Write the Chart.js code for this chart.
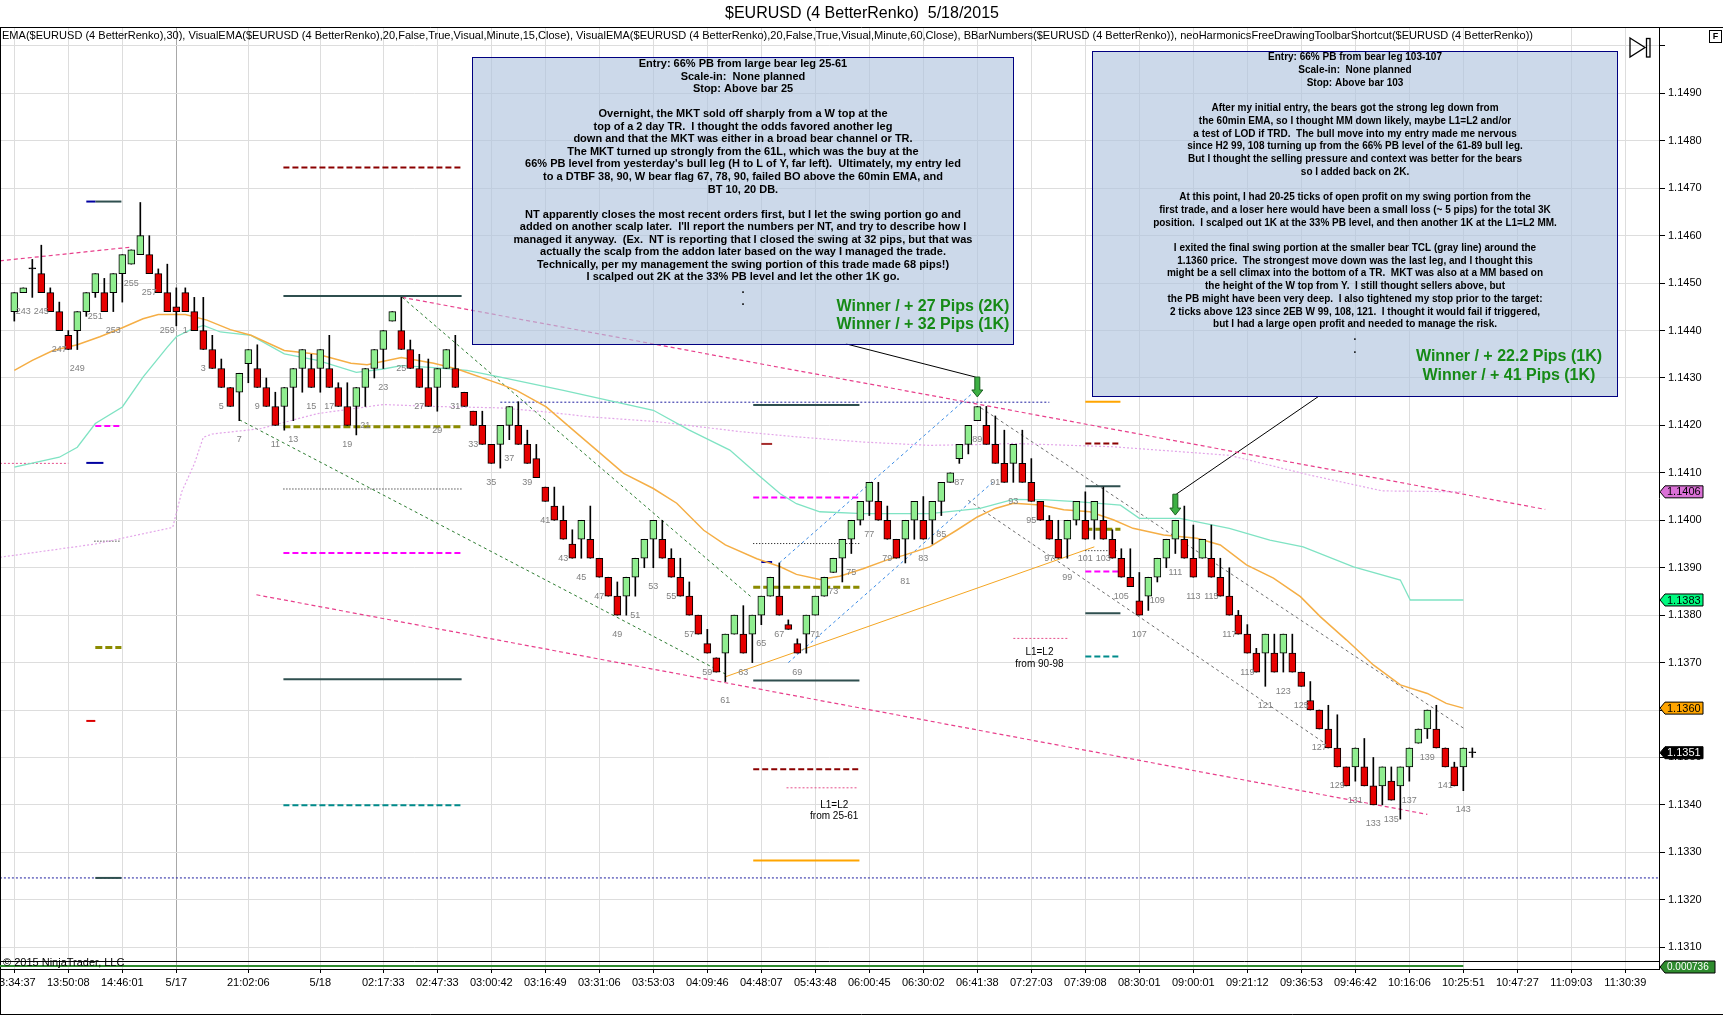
<!DOCTYPE html>
<html>
<head>
<meta charset="utf-8">
<title>$EURUSD (4 BetterRenko) 5/18/2015</title>
<script src="https://cdn.jsdelivr.net/npm/chart.js@4.4.1/dist/chart.umd.min.js"></script>
<style>
html, body { margin: 0; padding: 0; background: #fff; }
canvas { display: block; }
</style>
</head>
<body>
<canvas id="myChart" width="1723" height="1015"></canvas>
<script>
// renko bars (bar 1 = #242 of the previous session)
const barOpen = [
1.1444,1.1448,1.1453,1.1452,1.1448,1.1444,1.1439,1.1440,1.1444,1.1448,
1.1448,1.1448,1.1452,1.1454,1.1456,1.1456,1.1452,1.1448,1.1445,1.1448,
1.1444,1.1440,1.1436,1.1432,1.1428,1.1427,1.1433,1.1432,1.1428,1.1424,
1.1424,1.1428,1.1432,1.1432,1.1432,1.1432,1.1428,1.1424,1.1424,1.1428,
1.1432,1.1436,1.1442,1.1440,1.1436,1.1432,1.1428,1.1428,1.1432,1.1432,
1.1427,1.1423,1.1420,1.1416,1.1416,1.1420,1.1420,1.1416,1.1413,1.1407,
1.1403,1.1400,1.1395,1.1396,1.1396,1.1392,1.1388,1.1384,1.1384,1.1388,
1.1392,1.1396,1.1396,1.1392,1.1388,1.1384,1.1380,1.1374,1.1371,1.1372,
1.1376,1.1376,1.1376,1.1380,1.1384,1.1384,1.1378,1.1374,1.1376,1.1380,
1.1384,1.1389,1.1392,1.1396,1.1400,1.1404,1.1404,1.1400,1.1396,1.1396,
1.1400,1.1400,1.1400,1.1404,1.1408,1.1413,1.1416,1.1421,1.1420,1.1416,
1.1412,1.1412,1.1412,1.1408,1.1404,1.1400,1.1396,1.1396,1.1400,1.1400,
1.1400,1.1400,1.1396,1.1392,1.1388,1.1383,1.1384,1.1388,1.1392,1.1396,
1.1396,1.1392,1.1392,1.1392,1.1388,1.1384,1.1380,1.1376,1.1372,1.1372,
1.1372,1.1372,1.1372,1.1368,1.1362,1.1360,1.1356,1.1352,1.1348,1.1348,
1.1348,1.1344,1.1344,1.1345,1.1344,1.1348,1.1353,1.1356,1.1356,1.1352,
1.1348,1.1348,1.1351];
const barClose = [
1.1448,1.1449,1.1453,1.1448,1.1444,1.1440,1.1436,1.1444,1.1448,1.1452,
1.1444,1.1452,1.1456,1.1457,1.1460,1.1452,1.1448,1.1444,1.1444,1.1444,
1.1440,1.1436,1.1432,1.1428,1.1424,1.1431,1.1436,1.1428,1.1424,1.1420,
1.1428,1.1432,1.1436,1.1428,1.1436,1.1428,1.1424,1.1420,1.1428,1.1432,
1.1436,1.1440,1.1444,1.1436,1.1432,1.1428,1.1424,1.1432,1.1436,1.1428,
1.1424,1.1420,1.1416,1.1412,1.1420,1.1424,1.1416,1.1412,1.1409,1.1404,
1.1400,1.1396,1.1392,1.1400,1.1392,1.1388,1.1384,1.1380,1.1388,1.1392,
1.1396,1.1400,1.1392,1.1388,1.1384,1.1380,1.1376,1.1372,1.1368,1.1376,
1.1380,1.1372,1.1380,1.1384,1.1388,1.1380,1.1377,1.1372,1.1380,1.1384,
1.1388,1.1392,1.1396,1.1400,1.1404,1.1408,1.1400,1.1396,1.1392,1.1400,
1.1404,1.1396,1.1404,1.1408,1.1410,1.1416,1.1420,1.1424,1.1416,1.1412,
1.1408,1.1416,1.1408,1.1404,1.1400,1.1396,1.1392,1.1400,1.1404,1.1396,
1.1404,1.1396,1.1392,1.1388,1.1386,1.1380,1.1388,1.1392,1.1396,1.1400,
1.1392,1.1388,1.1396,1.1388,1.1384,1.1380,1.1376,1.1372,1.1368,1.1376,
1.1368,1.1376,1.1368,1.1365,1.1360,1.1356,1.1352,1.1348,1.1344,1.1352,
1.1344,1.1340,1.1348,1.1341,1.1348,1.1352,1.1356,1.1360,1.1352,1.1348,
1.1344,1.1352,1.1351];
const barHigh = [
1.1448,1.1449,1.1455,1.1458,1.1449,1.1446,1.1440,1.1444,1.1448,1.1452,
1.1451,1.1452,1.1456,1.1457,1.1467,1.1460,1.1453,1.1454,1.1449,1.1449,
1.1447,1.1447,1.1439,1.1434,1.1428,1.1431,1.1436,1.1437,1.1430,1.1427,
1.1428,1.1432,1.1436,1.1435,1.1436,1.1439,1.1429,1.1429,1.1428,1.1432,
1.1436,1.1440,1.1444,1.1447,1.1438,1.1435,1.1434,1.1432,1.1436,1.1439,
1.1427,1.1423,1.1423,1.1416,1.1420,1.1424,1.1425,1.1419,1.1416,1.1407,
1.1407,1.1403,1.1398,1.1400,1.1403,1.1392,1.1388,1.1387,1.1388,1.1392,
1.1396,1.1400,1.1400,1.1394,1.1392,1.1387,1.1380,1.1377,1.1371,1.1376,
1.1380,1.1382,1.1380,1.1384,1.1388,1.1391,1.1379,1.1375,1.1380,1.1384,
1.1388,1.1392,1.1396,1.1400,1.1404,1.1408,1.1408,1.1403,1.1396,1.1400,
1.1404,1.1405,1.1404,1.1408,1.1410,1.1416,1.1420,1.1424,1.1424,1.1422,
1.1419,1.1416,1.1419,1.1413,1.1404,1.1401,1.1400,1.1400,1.1404,1.1406,
1.1404,1.1407,1.1398,1.1394,1.1394,1.1389,1.1388,1.1392,1.1396,1.1400,
1.1403,1.1399,1.1396,1.1399,1.1392,1.1390,1.1381,1.1378,1.1373,1.1376,
1.1376,1.1376,1.1376,1.1368,1.1366,1.1360,1.1361,1.1359,1.1348,1.1352,
1.1354,1.1350,1.1348,1.1348,1.1348,1.1352,1.1356,1.1360,1.1361,1.1352,
1.1349,1.1352,1.1352];
const barLow = [
1.1442,1.1448,1.1447,1.1448,1.1444,1.1440,1.1436,1.1436,1.1443,1.1447,
1.1444,1.1444,1.1446,1.1454,1.1456,1.1452,1.1448,1.1444,1.1441,1.1444,
1.1440,1.1436,1.1432,1.1428,1.1424,1.1421,1.1429,1.1428,1.1424,1.1420,
1.1419,1.1421,1.1427,1.1428,1.1427,1.1428,1.1424,1.1420,1.1418,1.1424,
1.1430,1.1432,1.1442,1.1436,1.1432,1.1428,1.1424,1.1423,1.1432,1.1428,
1.1424,1.1420,1.1416,1.1412,1.1411,1.1417,1.1416,1.1412,1.1409,1.1404,
1.1400,1.1396,1.1392,1.1392,1.1392,1.1388,1.1384,1.1380,1.1380,1.1384,
1.1390,1.1390,1.1392,1.1388,1.1384,1.1380,1.1376,1.1372,1.1368,1.1366,
1.1376,1.1372,1.1370,1.1378,1.1384,1.1380,1.1377,1.1372,1.1372,1.1380,
1.1384,1.1389,1.1387,1.1393,1.1399,1.1401,1.1400,1.1396,1.1392,1.1391,
1.1396,1.1396,1.1395,1.1401,1.1408,1.1412,1.1414,1.1421,1.1416,1.1412,
1.1408,1.1408,1.1408,1.1404,1.1400,1.1396,1.1392,1.1392,1.1399,1.1396,
1.1396,1.1396,1.1392,1.1388,1.1386,1.1380,1.1381,1.1387,1.1390,1.1393,
1.1392,1.1388,1.1392,1.1388,1.1384,1.1380,1.1376,1.1372,1.1368,1.1365,
1.1368,1.1368,1.1368,1.1365,1.1360,1.1356,1.1352,1.1348,1.1344,1.1345,
1.1344,1.1340,1.1340,1.1341,1.1337,1.1345,1.1353,1.1354,1.1352,1.1348,
1.1344,1.1343,1.1350];

const firstBarNumber = 242;   // number printed under bar 1
const sessionStart = 19;      // 0-based index of bar "1" of 5/18 numbering

// time axis
const tickBars = [1,7,13,19,27,35,42,48,54,60,66,72,78,84,90,96,102,108,114,120,126,132,138,144,150,156,162,168,174,180];
const tickLabels = ['13:34:37','13:50:08','14:46:01','5/17','21:02:06','5/18','02:17:33','02:47:33','03:00:42','03:16:49',
  '03:31:06','03:53:03','04:09:46','04:48:07','05:43:48','06:00:45','06:30:02','06:41:38','07:27:03','07:39:08',
  '08:30:01','09:00:01','09:21:12','09:36:53','09:46:42','10:16:06','10:25:51','10:47:27','11:09:03','11:30:39'];
const sessionBar = 19;

// price axis
const yTicks = [1.1310,1.1320,1.1330,1.1340,1.1350,1.1360,1.1370,1.1380,1.1390,1.1400,
  1.1410,1.1420,1.1430,1.1440,1.1450,1.1460,1.1470,1.1480,1.1490,1.1500];
const xMin = -0.59, xMax = 183.74;
const yMin = 1.13054, yMax = 1.15040;

// EMA(30) - orange
const emaBars = [1,3,5.3,8,10.5,13,15.3,17,20,22.4,25,27.3,31,34.7,38.4,40.2,44,47.6,50.2,55,56.8,60.1,63.1,65.7,68.7,72,74.6,77.6,80,83.5,
  86.1,87.9,90.5,92.7,95.3,97.9,99.8,102.7,105.7,108,110,112,115,117.6,120.5,123.1,125.3,128.7,132.4,135,137.9,140.9,143.9,146.1,149,152,155,158,160.1,162];
const emaVals = [1.14316,1.14337,1.14358,1.14370,1.14387,1.14406,1.14425,1.14434,1.14434,1.14422,1.14402,1.14390,1.14358,1.14350,1.14331,1.14328,1.14343,1.14331,1.14319,1.14287,
  1.14274,1.14239,1.14190,1.14148,1.14099,1.14067,1.14036,1.13979,1.13948,1.13919,1.13902,1.13886,1.13875,1.13882,1.13898,1.13916,1.13926,1.13944,1.13979,1.14007,
  1.14025,1.14036,1.14032,1.14022,1.14018,1.14001,1.13983,1.13969,1.13962,1.13948,1.13906,1.13878,1.13839,1.13797,1.13748,1.13695,1.13653,1.13635,1.13614,1.13604];

// VisualEMA 15 min - aquamarine
const ema15Bars = [1,6,8,10,13,15.3,18,19,20.5,22,23.9,27.3,31,34.7,39,42,44,47.6,51.3,55,62,72,76,80.5,83.5,86.1,87.9,90.5,95.3,102.7,
  108.3,112,115.7,119.4,123.9,126,130.5,136,140.5,144.2,149.8,155,156.1,162];
const ema15Vals = [1.14112,1.14133,1.14154,1.14204,1.14239,1.14302,1.14365,1.14387,1.14401,1.14411,1.14397,1.14390,1.14351,1.14337,1.14312,1.14319,1.14326,1.14322,1.14316,1.14302,
  1.14274,1.14232,1.14190,1.14148,1.14098,1.14056,1.14035,1.14018,1.14014,1.14014,1.14025,1.14044,1.14043,1.14039,1.14032,1.14004,1.14004,1.13983,1.13958,1.13944,
  1.13902,1.13874,1.13832,1.13832];

// VisualEMA 60 min - plum dotted
const ema60Bars = [-0.6,10,18.6,19.6,21,22,23,28.3,34.7,42,47.6,55,59.8,65,72.4,81.6,87.9,95.3,102.7,109,112,123.1,136,145,153,162];
const ema60Vals = [1.13922,1.13950,1.13985,1.14060,1.14119,1.14175,1.14182,1.14193,1.14225,1.14244,1.14240,1.14237,1.14229,1.14218,1.14208,1.14187,1.14176,1.14165,1.14158,1.14160,
  1.14162,1.14155,1.14137,1.14095,1.14062,1.14060];

// hand drawn levels and trendlines: [bar1, price1, bar2, price2, style]
const drawLines = [
  [9.0,1.14672,10.0,1.14672,'navy'], [10.0,1.14672,12.9,1.14672,'slate'],
  [10.0,1.14199,12.9,1.14199,'magenta'], [9.0,1.14121,10.9,1.14121,'navy'],
  [-0.6,1.14120,7.0,1.14120,'pinkDot'], [9.9,1.13956,12.9,1.13956,'dotBlack'],
  [10.0,1.13732,12.9,1.13732,'olive'], [9.0,1.13577,10.0,1.13577,'red'],
  [10.0,1.13246,12.9,1.13246,'slate'],
  [30.9,1.14744,50.7,1.14744,'maroon'], [30.9,1.14473,50.7,1.14473,'slate'],
  [30.9,1.14197,50.7,1.14197,'olive'], [30.9,1.14066,50.7,1.14066,'dotBlack'],
  [30.9,1.13931,50.7,1.13931,'magenta'], [30.9,1.13665,50.7,1.13665,'slate'],
  [30.9,1.13399,50.7,1.13399,'teal'],
  [83.1,1.14243,94.9,1.14243,'slate'], [84.0,1.14161,85.2,1.14161,'maroonSolid'],
  [83.1,1.14048,94.9,1.14048,'magenta'], [83.1,1.13951,94.9,1.13951,'dotBlack'],
  [84.0,1.13912,85.2,1.13912,'navy'], [83.1,1.13859,94.9,1.13859,'olive'],
  [83.1,1.13662,94.9,1.13662,'slate'], [83.1,1.13475,94.9,1.13475,'maroon'],
  [86.8,1.13436,94.7,1.13436,'pinkDot'], [83.1,1.13283,94.9,1.13283,'orange'],
  [120.0,1.14250,123.9,1.14250,'orange'], [120.0,1.14162,123.9,1.14162,'maroon'],
  [120.0,1.14072,123.9,1.14072,'slate'], [120.0,1.13981,123.9,1.13981,'olive'],
  [120.0,1.13936,123.5,1.13936,'dotBlack'], [120.0,1.13892,123.9,1.13892,'magenta'],
  [120.0,1.13804,123.9,1.13804,'slate'], [120.0,1.13713,123.9,1.13713,'teal'],
  [112.0,1.13751,118.0,1.13751,'pinkDot'],
  [-0.6,1.13246,183.7,1.13246,'navyDot'], [55.0,1.14249,116.0,1.14249,'navyDot'],
  [44.1,1.14470,82.9,1.13838,'greenDash'], [26.0,1.14212,80.0,1.13676,'greenDash'],
  [44.1,1.14470,171.1,1.14023,'pinkDash'], [-0.6,1.14547,14.0,1.14576,'pinkDash'],
  [27.9,1.13843,158.0,1.13380,'pinkDash'],
  [86.0,1.13910,108.0,1.14277,'blueDash'], [87.0,1.13700,110.0,1.14085,'blueDash'],
  [108.4,1.14237,162.0,1.13562,'greyDash'], [107.0,1.14042,147.0,1.13525,'greyDash'],
  [80.0,1.13670,121.0,1.13944,'orangeThin'],
  [93.4,1.14372,107.8,1.14302,'black'], [145.9,1.14261,130.1,1.14055,'black']
];
const drawStyles = {
  slate: ['#2F4F4F', 2, []], navy: ['#0000A0', 2, []], maroon: ['#8B0000', 2, [6, 3]],
  maroonSolid: ['#A52A2A', 2, []], olive: ['#8B8B00', 3, [7, 3]], magenta: ['#FF00FF', 2, [6, 3]],
  dotBlack: ['#000000', 1, [1, 2]], teal: ['#008B8B', 2, [6, 3]], red: ['#DC0000', 2, []],
  orange: ['#FFA500', 2, []], pinkDot: ['#E6508C', 1, [2, 2]], navyDot: ['#1E1EA0', 1, [2, 2]],
  greenDash: ['#2E7D32', 1, [3, 3]], pinkDash: ['#E8408C', 1.2, [4, 3]], blueDash: ['#3C8CE6', 1, [3, 3]],
  greyDash: ['#6E6E6E', 1, [3, 3]], orangeThin: ['#F5A623', 1, []], black: ['#000000', 1, []]
};

// entry arrows: bar, top price, tip price
const arrowBars = [108, 130];
const arrowTops = [1.14302, 1.14055];
const arrowTips = [1.14260, 1.14011];

const noteLeft = [
  'Entry: 66% PB from large bear leg 25-61',
  'Scale-in:  None planned',
  'Stop: Above bar 25',
  '',
  'Overnight, the MKT sold off sharply from a W top at the',
  'top of a 2 day TR.  I thought the odds favored another leg',
  'down and that the MKT was either in a broad bear channel or TR.',
  'The MKT turned up strongly from the 61L, which was the buy at the',
  "66% PB level from yesterday's bull leg (H to L of Y, far left).  Ultimately, my entry led",
  'to a DTBF 38, 90, W bear flag 67, 78, 90, failed BO above the 60min EMA, and',
  'BT 10, 20 DB.',
  '',
  'NT apparently closes the most recent orders first, but I let the swing portion go and',
  "added on another scalp later.  I'll report the numbers per NT, and try to describe how I",
  'managed it anyway.  (Ex.  NT is reporting that I closed the swing at 32 pips, but that was',
  'actually the scalp from the addon later based on the way I managed the trade.',
  'Technically, per my management the swing portion of this trade made 68 pips!)',
  'I scalped out 2K at the 33% PB level and let the other 1K go.',
  '.',
  '.'
];
const noteRight = [
  'Entry: 66% PB from bear leg 103-107',
  'Scale-in:  None planned',
  'Stop: Above bar 103',
  '',
  'After my initial entry, the bears got the strong leg down from',
  'the 60min EMA, so I thought MM down likely, maybe L1=L2 and/or',
  'a test of LOD if TRD.  The bull move into my entry made me nervous',
  'since H2 99, 108 turning up from the 66% PB level of the 61-89 bull leg.',
  'But I thought the selling pressure and context was better for the bears',
  'so I added back on 2K.',
  '',
  'At this point, I had 20-25 ticks of open profit on my swing portion from the',
  'first trade, and a loser here would have been a small loss (~ 5 pips) for the total 3K',
  'position.  I scalped out 1K at the 33% PB level, and then another 1K at the L1=L2 MM.',
  '',
  'I exited the final swing portion at the smaller bear TCL (gray line) around the',
  '1.1360 price.  The strongest move down was the last leg, and I thought this',
  'might be a sell climax into the bottom of a TR.  MKT was also at a MM based on',
  'the height of the W top from Y.  I still thought sellers above, but',
  'the PB might have been very deep.  I also tightened my stop prior to the target:',
  '2 ticks above 123 since 2EB W 99, 108, 121.  I thought it would fail if triggered,',
  'but I had a large open profit and needed to manage the risk.',
  '.',
  '.'
];
const winsLeft = ['Winner / + 27 Pips (2K)', 'Winner / + 32 Pips (1K)'];
const winsRight = ['Winner / + 22.2 Pips (1K)', 'Winner / + 41 Pips (1K)'];

const titleText = '$EURUSD (4 BetterRenko)  5/18/2015';
const studyText = 'EMA($EURUSD (4 BetterRenko),30), VisualEMA($EURUSD (4 BetterRenko),20,False,True,Visual,Minute,15,Close), VisualEMA($EURUSD (4 BetterRenko),20,False,True,Visual,Minute,60,Close), BBarNumbers($EURUSD (4 BetterRenko)), neoHarmonicsFreeDrawingToolbarShortcut($EURUSD (4 BetterRenko))';
const stripValue = '0.000736';

const FONT = 'Arial, "Liberation Sans", sans-serif';

var xs = barOpen.map(function (v, i) { return i + 1; });

function pairs(bx, vals) {
    return bx.map(function (b, i) { return { x: b, y: vals[i] }; });
}

var datasets = [];

datasets.push({
    type: 'bar', label: 'body', order: 0, grouped: false,
    data: xs.map(function (x, i) { return { x: x, y: [barOpen[i], barClose[i]] }; }),
    backgroundColor: xs.map(function (x, i) {
        if (barClose[i] > barOpen[i]) return '#90EE90';
        if (barClose[i] < barOpen[i]) return '#E60000';
        return '#000';
    }),
    borderColor: '#000', borderWidth: 1, borderSkipped: false,
    barThickness: 7, minBarLength: 1
});
datasets.push({
    type: 'bar', label: 'wick', order: 1, grouped: false,
    data: xs.map(function (x, i) { return { x: x, y: [barLow[i], barHigh[i]] }; }),
    backgroundColor: '#000', borderWidth: 0, barThickness: 1, minBarLength: 1
});

function lineSet(data, color, width, dash, order) {
    return {
        type: 'line', data: data, borderColor: color, borderWidth: width, borderDash: dash,
        pointRadius: 0, fill: false, tension: 0, order: order
    };
}

datasets.push(lineSet(pairs(emaBars, emaVals), '#F5AE45', 1.5, [], 3));
datasets.push(lineSet(pairs(ema15Bars, ema15Vals), '#7FE3C3', 1.3, [], 3));
datasets.push(lineSet(pairs(ema60Bars, ema60Vals), '#E3A6E9', 1.2, [2, 2], 3));

drawLines.forEach(function (d) {
    var st = drawStyles[d[4]];
    datasets.push(lineSet([{ x: d[0], y: d[1] }, { x: d[2], y: d[3] }], st[0], st[1], st[2], 4));
});

function drawNote(ctx, box, lines, cx, y0, step, size) {
    ctx.fillStyle = 'rgba(176,196,222,0.65)';
    ctx.fillRect(box[0], box[1], box[2], box[3]);
    ctx.strokeStyle = '#000080';
    ctx.lineWidth = 1;
    ctx.strokeRect(box[0] + 0.5, box[1] + 0.5, box[2], box[3]);
    ctx.fillStyle = '#000';
    ctx.font = 'bold ' + size + 'px ' + FONT;
    ctx.textAlign = 'center';
    ctx.textBaseline = 'middle';
    lines.forEach(function (t, k) {
        if (t) ctx.fillText(t, cx, y0 + k * step);
    });
}

function priceTag(ctx, y, text, bg, fg, right) {
    ctx.beginPath();
    ctx.moveTo(1660, y);
    ctx.lineTo(1665, y - 6);
    ctx.lineTo(right, y - 6);
    ctx.lineTo(right, y + 6);
    ctx.lineTo(1665, y + 6);
    ctx.closePath();
    ctx.fillStyle = bg;
    ctx.fill();
    ctx.strokeStyle = '#000';
    ctx.lineWidth = 1;
    ctx.stroke();
    ctx.fillStyle = fg;
    ctx.textAlign = 'left';
    ctx.textBaseline = 'middle';
    ctx.fillText(text, 1667, y + 0.5);
}

var overlay = {
    id: 'overlay',
    beforeDraw: function (chart) {
        var ctx = chart.ctx;
        ctx.save();
        ctx.fillStyle = '#fff';
        ctx.fillRect(0, 0, chart.width, chart.height);
        ctx.restore();
    },
    afterDatasetsDraw: function (chart) {
        var ctx = chart.ctx, sx = chart.scales.x, sy = chart.scales.y;
        ctx.save();

        // bar numbers
        ctx.font = '9px ' + FONT;
        ctx.fillStyle = '#808080';
        ctx.textAlign = 'center';
        ctx.textBaseline = 'middle';
        for (var i = 0; i < barLow.length; i++) {
            var num = i < sessionStart ? firstBarNumber + i : i - sessionStart + 1;
            if (num % 2 === 1) {
                ctx.fillText(String(num), sx.getPixelForValue(i + 1), sy.getPixelForValue(barLow[i]) + 19);
            }
        }

        // L1=L2 notes
        ctx.font = '10px ' + FONT;
        ctx.fillStyle = '#000';
        ctx.fillText('L1=L2', sx.getPixelForValue(92.1), sy.getPixelForValue(1.13399));
        ctx.fillText('from 25-61', sx.getPixelForValue(92.1), sy.getPixelForValue(1.13376));
        ctx.fillText('L1=L2', sx.getPixelForValue(114.9), sy.getPixelForValue(1.13722));
        ctx.fillText('from 90-98', sx.getPixelForValue(114.9), sy.getPixelForValue(1.13697));

        // entry arrows
        for (var a = 0; a < arrowBars.length; a++) {
            var x = sx.getPixelForValue(arrowBars[a]);
            var yt = sy.getPixelForValue(arrowTops[a]);
            var yp = sy.getPixelForValue(arrowTips[a]);
            ctx.beginPath();
            ctx.moveTo(x - 2.5, yt);
            ctx.lineTo(x + 2.5, yt);
            ctx.lineTo(x + 2.5, yp - 7);
            ctx.lineTo(x + 5.5, yp - 7);
            ctx.lineTo(x, yp);
            ctx.lineTo(x - 5.5, yp - 7);
            ctx.lineTo(x - 2.5, yp - 7);
            ctx.closePath();
            ctx.fillStyle = '#3CB043';
            ctx.fill();
            ctx.strokeStyle = '#1B5E20';
            ctx.lineWidth = 1;
            ctx.stroke();
        }

        // trade notes
        drawNote(ctx, [472, 57, 541, 287], noteLeft, 743, 64, 12.55, 11);
        drawNote(ctx, [1092, 51, 525, 345], noteRight, 1355, 57.5, 12.72, 10);

        ctx.font = 'bold 16px ' + FONT;
        ctx.fillStyle = '#168A16';
        ctx.textAlign = 'center';
        ctx.fillText(winsLeft[0], 923, 306.5);
        ctx.fillText(winsLeft[1], 923, 325);
        ctx.fillText(winsRight[0], 1509, 357);
        ctx.fillText(winsRight[1], 1509, 376);
        ctx.restore();
    },
    afterDraw: function (chart) {
        var ctx = chart.ctx, sx = chart.scales.x, sy = chart.scales.y, area = chart.chartArea;
        ctx.save();

        // title + study line
        ctx.fillStyle = '#000';
        ctx.font = '16px ' + FONT;
        ctx.textAlign = 'center';
        ctx.textBaseline = 'middle';
        ctx.fillText(titleText, 862, 14);

        ctx.font = '11px ' + FONT;
        ctx.textAlign = 'left';
        var w = ctx.measureText(studyText).width;
        ctx.save();
        ctx.translate(2, 36);
        ctx.scale(1531 / w, 1);
        ctx.fillText(studyText, 0, 0);
        ctx.restore();

        // frame
        ctx.strokeStyle = '#000';
        ctx.lineWidth = 1;
        ctx.beginPath();
        ctx.moveTo(0, 27.5); ctx.lineTo(chart.width, 27.5);
        ctx.moveTo(0.5, 27); ctx.lineTo(0.5, 1014.5);
        ctx.moveTo(0, 1014.5); ctx.lineTo(chart.width, 1014.5);
        ctx.moveTo(0, 961.5); ctx.lineTo(area.right, 961.5);
        ctx.stroke();

        // lower indicator strip
        ctx.strokeStyle = '#2E8B2E';
        ctx.lineWidth = 2;
        ctx.beginPath();
        ctx.moveTo(area.left, 966);
        ctx.lineTo(sx.getPixelForValue(barClose.length - 1), 966);
        ctx.stroke();

        ctx.font = '11px ' + FONT;
        ctx.fillStyle = '#000';
        ctx.textAlign = 'left';
        ctx.textBaseline = 'middle';
        ctx.fillText('\u00A9 2015 NinjaTrader, LLC', 3, 963);

        // price tags on the axis
        ctx.font = '11px ' + FONT;
        priceTag(ctx, sy.getPixelForValue(ema60Vals[ema60Vals.length - 1]), ema60Vals[ema60Vals.length - 1].toFixed(4), '#DA70D6', '#000', 1703);
        priceTag(ctx, sy.getPixelForValue(ema15Vals[ema15Vals.length - 1]), ema15Vals[ema15Vals.length - 1].toFixed(4), '#00FA7F', '#000', 1703);
        priceTag(ctx, sy.getPixelForValue(emaVals[emaVals.length - 1]), emaVals[emaVals.length - 1].toFixed(4), '#FFA500', '#000', 1703);
        priceTag(ctx, sy.getPixelForValue(barClose[barClose.length - 1]), barClose[barClose.length - 1].toFixed(4), '#000', '#fff', 1703);
        ctx.font = '10px ' + FONT;
        priceTag(ctx, 967, stripValue, '#2E8B2E', '#fff', 1715);

        // toolbar glyphs
        ctx.strokeStyle = '#000';
        ctx.lineWidth = 1.3;
        ctx.beginPath();
        ctx.moveTo(1630, 38); ctx.lineTo(1645, 47.5); ctx.lineTo(1630, 57); ctx.closePath();
        ctx.stroke();
        ctx.strokeRect(1646.5, 38.5, 3.5, 18.5);
        ctx.lineWidth = 1;
        ctx.strokeRect(1709.5, 30.5, 12, 12);
        ctx.font = 'bold 9px ' + FONT;
        ctx.textAlign = 'center';
        ctx.fillStyle = '#000';
        ctx.fillText('F', 1715.5, 37);
        ctx.restore();
    }
};

const ctx = document.getElementById('myChart').getContext('2d');
const myChart = new Chart(ctx, {
    type: 'bar',
    data: { datasets: datasets },
    options: {
        responsive: false,
        animation: false,
        events: [],
        layout: { padding: { top: 27, left: 0, right: 0, bottom: 0 } },
        plugins: { legend: { display: false }, tooltip: { enabled: false }, title: { display: false } },
        scales: {
            x: {
                type: 'linear', min: xMin, max: xMax, offset: false,
                grid: {
                    offset: false, tickLength: 4, tickColor: '#000',
                    color: function (c) { return c.tick && c.tick.value === sessionBar ? '#A8A8A8' : '#DDDDDD'; }
                },
                border: { color: '#000' },
                ticks: {
                    autoSkip: false, maxRotation: 0, minRotation: 0, padding: 3, color: '#000',
                    font: { size: 11, family: FONT },
                    callback: function (v, i) { return tickLabels[i]; }
                },
                afterBuildTicks: function (s) { s.ticks = tickBars.map(function (v) { return { value: v }; }); },
                afterFit: function (s) { s.height = 46; s.paddingLeft = 0; s.paddingRight = 0; }
            },
            y: {
                type: 'linear', position: 'right', min: yMin, max: yMax,
                grid: { color: '#DDDDDD', tickColor: '#000', tickLength: 6 },
                border: { color: '#000' },
                ticks: {
                    autoSkip: false, padding: 3, color: '#000',
                    font: { size: 11, family: FONT },
                    callback: function (v) { return v > 1.1495 ? '' : Number(v).toFixed(4); }
                },
                afterBuildTicks: function (s) { s.ticks = yTicks.map(function (v) { return { value: v }; }); },
                afterFit: function (s) { s.width = 64; s.paddingTop = 0; s.paddingBottom = 0; }
            }
        }
    },
    plugins: [overlay]
});
</script>
</body>
</html>
